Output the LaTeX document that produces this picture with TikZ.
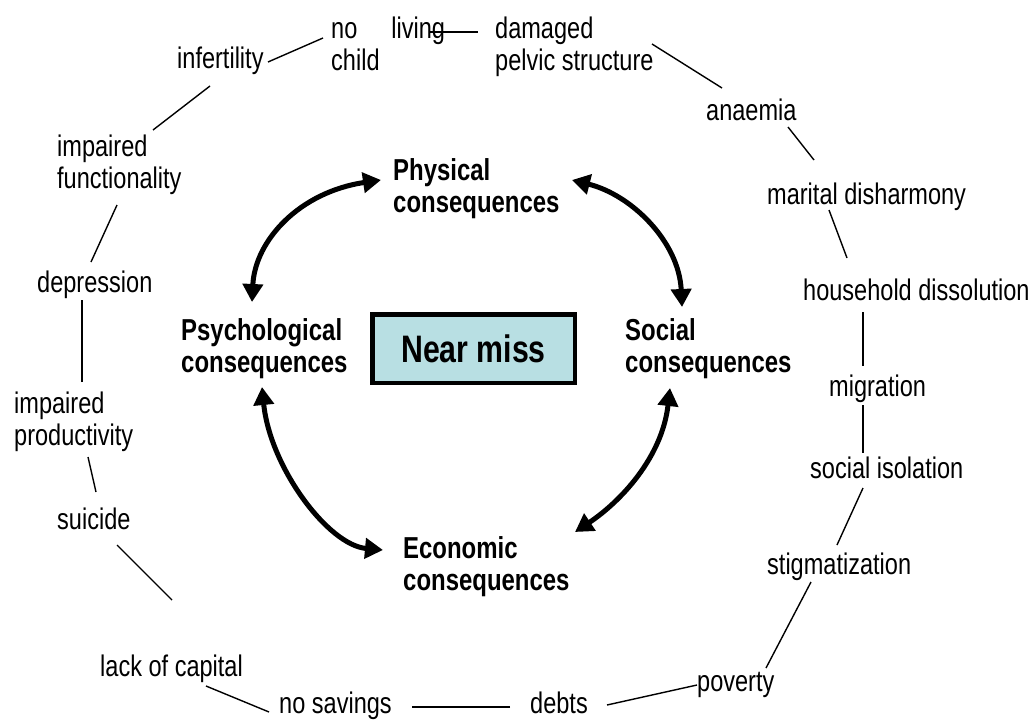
\documentclass[tikz,border=0pt]{standalone}
\usepackage{fontspec}
\setmainfont{Liberation Sans}[FakeStretch=0.79]
\usetikzlibrary{arrows.meta}
\definecolor{nearfill}{RGB}{184,223,227}
\begin{document}
\begin{tikzpicture}[x=1pt,y=-1pt,
  item/.style={anchor=base west, inner sep=0pt, align=left, font=\fontsize{29.8}{32}\selectfont},
  area/.style={anchor=base west, inner sep=0pt, align=left, font=\fontsize{30.3}{32}\selectfont\bfseries},
  link/.style={line width=1.4pt},
  twoway/.style={line width=5pt, {Triangle[length=18pt,width=20pt]}-{Triangle[length=18pt,width=20pt]}},
  core/.style={draw, line width=4.5pt, fill=nearfill, minimum width=202.5pt, minimum height=68.5pt,
    inner sep=0pt, font=\fontsize{38.3}{40}\selectfont\bfseries}
]
\useasboundingbox (0,0) rectangle (1034,720);

% outer ring of consequences (two-line labels sit on the baseline of their last line)
\node[item] (nochild)   at (331,70)  {no\hspace{34pt}living\\child};
\node[item] (damaged)   at (495,70)  {damaged\\pelvic structure};
\node[item] (infert)    at (177,68)  {infertility};
\node[item] (anaemia)   at (706,120) {anaemia};
\node[item] (marital)   at (767,204) {marital disharmony};
\node[item] (household) at (803,300) {household dissolution};
\node[item] (migration) at (829,396) {migration};
\node[item] (isolation) at (810,478) {social isolation};
\node[item] (stigma)    at (767,574) {stigmatization};
\node[item] (poverty)   at (697,691) {poverty};
\node[item] (debts)     at (530,713) {debts};
\node[item] (nosav)     at (279,713) {no savings};
\node[item] (lack)      at (100,676) {lack of capital};
\node[item] (suicide)   at (57,529)  {suicide};
\node[item] (improd)    at (14,445)  {impaired\\productivity};
\node[item] (depress)   at (37,292)  {depression};
\node[item] (imfunc)    at (57,188)  {impaired\\functionality};

% inner ring
\node[area] (phys)   at (393,212) {Physical\\consequences};
\node[area] (psych)  at (181,372) {Psychological\\consequences};
\node[area] (social) at (625,372) {Social\\consequences};
\node[area] (econ)   at (403,590) {Economic\\consequences};
\node[core] (near) at (473.5,348.5) {Near miss};

% links between the outer items
\draw[link] ([shift={(91,-6)}]infert.base west) -- ([shift={(-8,-32)}]nochild.base west);
\draw[link] ([shift={(99,-38)}]nochild.base west) -- ([shift={(-17,-38)}]damaged.base west);
\draw[link] ([shift={(157,-26)}]damaged.base west) -- ([shift={(16,-32)}]anaemia.base west);
\draw[link] ([shift={(82,7)}]anaemia.base west) -- ([shift={(47,-44)}]marital.base west);
\draw[link] ([shift={(62,6)}]marital.base west) -- ([shift={(44,-42)}]household.base west);
\draw[link] ([shift={(60,12)}]household.base west) -- ([shift={(34,-30)}]migration.base west);
\draw[link] ([shift={(34,9)}]migration.base west) -- ([shift={(53,-25)}]isolation.base west);
\draw[link] ([shift={(53,10)}]isolation.base west) -- ([shift={(70,-29)}]stigma.base west);
\draw[link] ([shift={(44,8)}]stigma.base west) -- ([shift={(69,-23)}]poverty.base west);
\draw[link] ([shift={(0,-6)}]poverty.base west) -- ([shift={(77,-8)}]debts.base west);
\draw[link] ([shift={(-20,-6)}]debts.base west) -- ([shift={(133,-6)}]nosav.base west);
\draw[link] ([shift={(-10,-1)}]nosav.base west) -- ([shift={(106,10)}]lack.base west);
\draw[link] ([shift={(72,-76)}]lack.base west) -- ([shift={(60,16)}]suicide.base west);
\draw[link] ([shift={(39,-37)}]suicide.base west) -- ([shift={(74,12)}]improd.base west);
\draw[link] ([shift={(68,-63)}]improd.base west) -- ([shift={(45,8)}]depress.base west);
\draw[link] ([shift={(54,-30)}]depress.base west) -- ([shift={(60,17)}]imfunc.base west);
\draw[link] ([shift={(96,-58)}]imfunc.base west) -- ([shift={(33,18)}]infert.base west);

% two-way arrows of the inner ring
\draw[twoway] ([shift={(71,-70)}]psych.base west) .. controls +(3,-62) and +(-81,12) .. ([shift={(-12,-32)}]phys.base west);
\draw[twoway] ([shift={(179,-32)}]phys.base west) .. controls +(60,15) and +(-3,-65) .. ([shift={(57,-65)}]social.base west);
\draw[twoway] ([shift={(45,16)}]social.base west) .. controls +(-8,70) and +(45,-30) .. ([shift={(172,-58)}]econ.base west);
\draw[twoway] ([shift={(81,15)}]psych.base west) .. controls +(8,80) and +(-55,-5) .. ([shift={(-20,-40)}]econ.base west);
\end{tikzpicture}
\end{document}
